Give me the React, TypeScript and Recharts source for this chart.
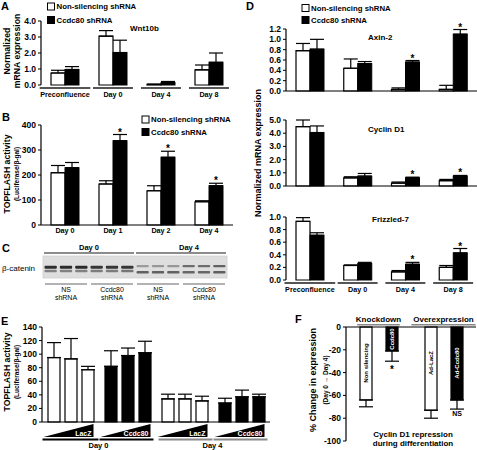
import React from 'react';
import { BarChart, Bar, XAxis, YAxis, ErrorBar, Cell } from 'recharts';

const FONT = '"Liberation Sans", Arial, Helvetica, sans-serif';
const TICK_STYLE = { fontSize: 8.5, fontWeight: 'bold', fill: '#000', fontFamily: FONT } as any;

// ---------- Panel A : Wnt10b ----------
const catsA = ['Preconfluence', 'Day 0', 'Day 4', 'Day 8'];
const wntNS = [0.75, 3.05, 0.04, 0.95];
const wntNSErr = [0.17, 0.35, 0.01, 0.3];
const wntCc = [0.97, 2.03, 0.15, 1.42];
const wntCcErr = [0.18, 0.77, 0.07, 0.58];
const wntSig = [false, false, false, false];
const ticksA = [0, 1, 2, 3, 4];

// ---------- Panel B : TOPFLASH ----------
const catsB = ['Day 0', 'Day 1', 'Day 2', 'Day 4'];
const topNS = [209, 164, 137, 93];
const topNSErr = [29, 13, 20, 4];
const topCc = [229, 337, 271, 157];
const topCcErr = [21, 25, 24, 10];
const topSig = [false, true, true, true];
const ticksB = [0, 100, 200, 300, 400];

// ---------- Panel C : blot ----------
const blotDays = ['Day 0', 'Day 4'];
const blotGroups = [['NS', 'shRNA'], ['Ccdc80', 'shRNA'], ['NS', 'shRNA'], ['Ccdc80', 'shRNA']];
const blotUpper = [0.78, 0.8, 0.8, 0.75, 0.75, 0.75, 0.28, 0.3, 0.3, 0.5, 0.5, 0.55];
const blotLower = [0.4, 0.4, 0.4, 0.42, 0.42, 0.45, 0.55, 0.55, 0.55, 0.52, 0.52, 0.56];

// ---------- Panel D ----------
const catsD = ['Preconfluence', 'Day 0', 'Day 4', 'Day 8'];
const axinNS = [0.78, 0.44, 0.03, 0.03];
const axinNSErr = [0.14, 0.18, 0.03, 0.08];
const axinCc = [0.81, 0.53, 0.56, 1.1];
const axinCcErr = [0.19, 0.04, 0.03, 0.09];
const axinSig = [false, false, true, true];
const ticksAxin = [0, 0.2, 0.4, 0.6, 0.8, 1.0, 1.2];

const cycNS = [4.5, 0.62, 0.22, 0.4];
const cycNSErr = [0.5, 0.08, 0.08, 0.1];
const cycCc = [4.05, 0.75, 0.62, 0.75];
const cycCcErr = [0.5, 0.2, 0.05, 0.05];
const cycSig = [false, false, true, true];
const ticksCyc = [0, 1, 2, 3, 4, 5];

const frzNS = [0.93, 0.23, 0.13, 0.2];
const frzNSErr = [0.06, 0.01, 0.02, 0.03];
const frzCc = [0.71, 0.26, 0.25, 0.43];
const frzCcErr = [0.04, 0.02, 0.03, 0.07];
const frzSig = [false, false, true, true];
const ticksFrz = [0, 0.2, 0.4, 0.6, 0.8, 1.0];

// ---------- Panel E ----------
const eConstruct = ['LacZ', 'Ccdc80', 'LacZ', 'Ccdc80'];
const eDay = ['Day 0', 'Day 0', 'Day 4', 'Day 4'];
const eDose1 = [95, 82, 34, 28];
const eDose1Err = [22, 23, 7, 7];
const eDose2 = [93, 98, 34, 37];
const eDose2Err = [30, 11, 7, 10];
const eDose3 = [77, 102, 31, 37];
const eDose3Err = [5, 17, 7, 4];
const ticksE = [0, 20, 40, 60, 80, 100, 120, 140];

// ---------- Panel F ----------
const fCats = ['Knockdown', 'Overexpression'];
const fWhite = [-64, -73];
const fWhiteErr = [6, 7];
const fWhiteLab = ['Non silencing', 'Ad-LacZ'];
const fBlack = [-21, -64];
const fBlackErr = [9, 8];
const fBlackLab = ['Ccdc80', 'Ad-Ccdc80'];
const fBlackNote = ['*', 'NS'];
const ticksF = [-100, -80, -60, -40, -20, 0];

function buildRows(cats: string[], ns: number[], nsErr: number[], cc: number[], ccErr: number[], sig: boolean[]) {
  return cats.map((c, i) => ({
    cat: c,
    ns: ns[i],
    nsE: [0, nsErr[i]],
    cc: cc[i],
    ccE: [0, ccErr[i]],
    ccHi: ccErr[i],
    sig: sig[i],
  }));
}

const starShape = (props: any) => {
  const { x, y, width, height, payload } = props;
  const top = Math.min(y, y + height);
  const h = Math.abs(height);
  const v = Math.abs(payload.cc);
  const capY = v > 0 ? top - payload.ccHi * (h / v) : top;
  return (
    <g>
      <rect x={x} y={top} width={width} height={h} fill="#000" stroke="#000" strokeWidth={1} />
      {payload.sig ? (
        <text x={x + width / 2} y={capY + 1} textAnchor="middle" fontSize={10} fontWeight="bold" fill="#000" fontFamily={FONT}>
          *
        </text>
      ) : null}
    </g>
  );
};

const GroupTick = (props: any) => {
  const { x, y, payload } = props;
  const label = String(payload.value);
  const w = Math.max(label.length * 3.9, 40);
  return (
    <g>
      <line x1={x - w / 2} x2={x + w / 2} y1={y + 3} y2={y + 3} stroke="#555" strokeWidth={2} />
      <text x={x} y={y + 12} textAnchor="middle" fontSize={7.2} fontWeight="bold" fill="#000" fontFamily={FONT}>
        {label}
      </text>
    </g>
  );
};

const PlainTick = (props: any) => {
  const { x, y, payload } = props;
  return (
    <text x={x} y={y + 7.5} textAnchor="middle" fontSize={7.2} fontWeight="bold" fill="#000" fontFamily={FONT}>
      {String(payload.value)}
    </text>
  );
};

function TwoBarChart(p: any) {
  const rows = buildRows(p.cats, p.ns, p.nsErr, p.cc, p.ccErr, p.sig);
  const tick = p.xMode === 'none' ? false : p.xMode === 'group' ? (t: any) => <GroupTick {...t} /> : (t: any) => <PlainTick {...t} />;
  return (
    <div style={{ position: 'absolute', left: p.left, top: p.top }}>
      <BarChart width={p.width} height={p.height} data={rows} margin={p.margin} barGap={0}>
        <XAxis
          dataKey="cat"
          height={p.xHeight}
          interval={0}
          tickLine={false}
          tickSize={0}
          tickMargin={0}
          axisLine={p.xMode === 'group' ? false : { stroke: '#000', strokeWidth: 1.2 }}
          tick={tick as any}
        />
        <YAxis
          width={p.yWidth}
          domain={[p.yTicks[0], p.yTicks[p.yTicks.length - 1]]}
          ticks={p.yTicks}
          interval={0}
          tickFormatter={(v: any) => Number(v).toFixed(p.digits)}
          tick={TICK_STYLE}
          tickSize={3}
          tickMargin={2}
          axisLine={{ stroke: '#000', strokeWidth: 1.2 }}
          tickLine={{ stroke: '#000', strokeWidth: 1 }}
        />
        <Bar dataKey="ns" barSize={14} fill="#fff" stroke="#000" strokeWidth={1.2} isAnimationActive={false}>
          <ErrorBar dataKey="nsE" width={7} stroke="#000" strokeWidth={1.2} direction="y" />
        </Bar>
        <Bar dataKey="cc" barSize={14} fill="#000" isAnimationActive={false} shape={starShape}>
          <ErrorBar dataKey="ccE" width={7} stroke="#000" strokeWidth={1.2} direction="y" />
        </Bar>
      </BarChart>
    </div>
  );
}

// ---------- Panel E chart ----------
const WedgeTick = (props: any) => {
  const { x, y, index } = props;
  const lab = eConstruct[index];
  const day = eDay[index];
  const gray = day !== eDay[0];
  const lx1 = index === 2 ? x - 26 : x - 28;
  const lx2 = index % 2 === 0 ? x + 28 : x + 26;
  return (
    <g>
      <polygon points={`${x - 27},${y + 15} ${x + 23},${y + 15} ${x + 23},${y + 2}`} fill="#000" />
      <text x={x + 21} y={y + 14} textAnchor="end" fontSize={7} fontWeight="bold" fill="#fff" fontFamily={FONT}>
        {lab}
      </text>
      <line x1={lx1} x2={lx2} y1={y + 17.5} y2={y + 17.5} stroke={gray ? '#888' : '#000'} strokeWidth={2} />
      {index % 2 === 0 ? (
        <text x={x + 28} y={y + 26} textAnchor="middle" fontSize={7.5} fontWeight="bold" fill="#000" fontFamily={FONT}>
          {day}
        </text>
      ) : null}
    </g>
  );
};

function PanelE() {
  const rows = eConstruct.map((c, i) => ({
    id: eDay[i] + ' ' + c,
    d1: eDose1[i],
    d1E: [0, eDose1Err[i]],
    d2: eDose2[i],
    d2E: [0, eDose2Err[i]],
    d3: eDose3[i],
    d3E: [0, eDose3Err[i]],
  }));
  const fillFor = (c: string) => (c === 'LacZ' ? '#fff' : '#000');
  const keys: [string, string][] = [
    ['d1', 'd1E'],
    ['d2', 'd2E'],
    ['d3', 'd3E'],
  ];
  return (
    <div style={{ position: 'absolute', left: 0, top: 300 }}>
      <BarChart width={290} height={150} data={rows} margin={{ top: 27, right: 20, left: 12, bottom: 0 }} barGap={5}>
        <XAxis
          dataKey="id"
          height={28}
          interval={0}
          tickLine={false}
          tickSize={0}
          tickMargin={0}
          axisLine={{ stroke: '#000', strokeWidth: 1.2 }}
          tick={(t: any) => <WedgeTick {...t} />}
        />
        <YAxis
          width={30}
          domain={[0, 140]}
          ticks={ticksE}
          interval={0}
          tick={TICK_STYLE}
          tickSize={3}
          tickMargin={2}
          axisLine={{ stroke: '#000', strokeWidth: 1.2 }}
          tickLine={{ stroke: '#000', strokeWidth: 1 }}
        />
        {keys.map(([k, e]) => (
          <Bar key={k} dataKey={k} barSize={12} stroke="#000" strokeWidth={1.2} isAnimationActive={false}>
            {eConstruct.map((c, i) => (
              <Cell key={i} fill={fillFor(c)} />
            ))}
            <ErrorBar dataKey={e} width={7} stroke="#000" strokeWidth={1.2} direction="y" />
          </Bar>
        ))}
      </BarChart>
    </div>
  );
}

// ---------- Panel F chart ----------
const HeaderTick = (props: any) => {
  const { x, y, payload } = props;
  const label = String(payload.value);
  const w = label.length * 4.3 + 4;
  return (
    <g>
      <text x={x} y={y - 5} textAnchor="middle" fontSize={8} fontWeight="bold" fill="#000" fontFamily={FONT}>
        {label}
      </text>
      <line x1={x - w / 2} x2={x + w / 2} y1={y - 2.2} y2={y - 2.2} stroke="#888" strokeWidth={1.6} />
    </g>
  );
};

const fShape = (dark: boolean) => (props: any) => {
  const { x, y, width, height, payload } = props;
  const top = Math.min(y, y + height);
  const h = Math.abs(height);
  const val = Math.abs(dark ? payload.b : payload.w);
  const err = dark ? payload.bErr : payload.wErr;
  const label = dark ? payload.bLab : payload.wLab;
  const cx = x + width / 2;
  const cy = top + Math.min(h / 2, 36);
  const errBottom = top + h + (val > 0 ? (err * h) / val : 0);
  const note = dark ? payload.bNote : '';
  return (
    <g>
      <rect x={x} y={top} width={width} height={h} fill={dark ? '#000' : '#fff'} stroke="#000" strokeWidth={1.2} />
      <text
        x={cx}
        y={cy}
        transform={`rotate(-90 ${cx} ${cy})`}
        textAnchor="middle"
        dominantBaseline="central"
        fontSize={6}
        fontWeight="bold"
        fill={dark ? '#fff' : '#000'}
        fontFamily={FONT}
      >
        {label}
      </text>
      {note === '*' ? (
        <text x={cx} y={errBottom + 12} textAnchor="middle" fontSize={10} fontWeight="bold" fill="#000" fontFamily={FONT}>
          *
        </text>
      ) : note ? (
        <text x={cx} y={errBottom + 7} textAnchor="middle" fontSize={7} fontWeight="bold" fill="#000" fontFamily={FONT}>
          {note}
        </text>
      ) : null}
    </g>
  );
};

function PanelF() {
  const rows = fCats.map((c, i) => ({
    cat: c,
    w: fWhite[i],
    wE: [fWhiteErr[i], 0],
    wErr: fWhiteErr[i],
    wLab: fWhiteLab[i],
    b: fBlack[i],
    bE: [fBlackErr[i], 0],
    bErr: fBlackErr[i],
    bLab: fBlackLab[i],
    bNote: fBlackNote[i],
  }));
  return (
    <div style={{ position: 'absolute', left: 290, top: 300 }}>
      <BarChart width={187} height={150} data={rows} margin={{ top: 17, right: 1, left: 26, bottom: 9 }} barGap={14}>
        <XAxis
          dataKey="cat"
          orientation="top"
          height={10}
          interval={0}
          tickLine={false}
          tickSize={0}
          tickMargin={0}
          axisLine={{ stroke: '#000', strokeWidth: 1.2 }}
          tick={(t: any) => <HeaderTick {...t} />}
        />
        <YAxis
          width={30}
          domain={[-100, 0]}
          ticks={ticksF}
          interval={0}
          tick={TICK_STYLE}
          tickSize={3}
          tickMargin={2}
          axisLine={{ stroke: '#000', strokeWidth: 1.2 }}
          tickLine={{ stroke: '#000', strokeWidth: 1 }}
        />
        <Bar dataKey="w" barSize={12} fill="#fff" isAnimationActive={false} shape={fShape(false)}>
          <ErrorBar dataKey="wE" width={7} stroke="#000" strokeWidth={1.2} direction="y" />
        </Bar>
        <Bar dataKey="b" barSize={12} fill="#000" isAnimationActive={false} shape={fShape(true)}>
          <ErrorBar dataKey="bE" width={7} stroke="#000" strokeWidth={1.2} direction="y" />
        </Bar>
      </BarChart>
    </div>
  );
}

// ---------- overlay helpers ----------
const Legend2 = ({ x, y1, y2 }: { x: number; y1: number; y2: number }) => (
  <g>
    <rect x={x} y={y1 - 3.5} width={7} height={7} fill="#fff" stroke="#000" strokeWidth={1} />
    <text x={x + 9} y={y1 + 2.8} fontSize={7.8} fontWeight="bold" fill="#000">
      Non-silencing shRNA
    </text>
    <rect x={x} y={y2 - 3.5} width={7} height={7} fill="#000" stroke="#000" strokeWidth={1} />
    <text x={x + 9} y={y2 + 2.8} fontSize={7.8} fontWeight="bold" fill="#000">
      Ccdc80 shRNA
    </text>
  </g>
);

const VText = ({ cx, cy, size, children }: any) => (
  <text
    x={cx}
    y={cy}
    transform={`rotate(-90 ${cx} ${cy})`}
    textAnchor="middle"
    dominantBaseline="central"
    fontSize={size}
    fontWeight="bold"
    fill="#000"
  >
    {children}
  </text>
);

function Blot() {
  const x0 = 43;
  const w = 184;
  const lane = w / blotUpper.length;
  const shade = (d: number) => {
    const v = Math.round(215 * (1 - d));
    return `rgb(${v},${v},${v})`;
  };
  return (
    <g>
      <text x={2} y={252} fontSize={11} fontWeight="bold" fill="#000">C</text>
      {blotDays.map((d, i) => (
        <g key={d}>
          <text x={x0 + w / 4 + (i * w) / 2 + (i === 1 ? 8 : 0)} y={250} textAnchor="middle" fontSize={7.5} fontWeight="bold" fill="#000">
            {d}
          </text>
          <line x1={x0 + (i * w) / 2 + 1} x2={x0 + ((i + 1) * w) / 2 - 1} y1={253} y2={253} stroke="#666" strokeWidth={1.5} />
        </g>
      ))}
      <rect x={x0} y={256} width={w} height={22} fill="#dedede" stroke="#cfcfcf" strokeWidth={0.8} />
      <text x={2} y={271} fontSize={8} fill="#000">β-catenin</text>
      {blotUpper.map((u, i) => {
        const day4 = i >= 6;
        const lx = x0 + i * lane + 1.5;
        return (
          <g key={i}>
            <rect x={lx} y={day4 ? 265 : 265.8} width={lane - 3} height={day4 ? 2.2 : 3} rx={1} fill={shade(u)} />
            <rect x={lx} y={day4 ? 271 : 269.8} width={lane - 3} height={2.4} rx={1} fill={shade(blotLower[i])} />
          </g>
        );
      })}
      {blotGroups.map((g, i) => {
        const gx1 = x0 + (i * w) / 4 + 2;
        const gx2 = x0 + ((i + 1) * w) / 4 - 2;
        const cx = (gx1 + gx2) / 2;
        return (
          <g key={i}>
            <line x1={gx1} x2={gx2} y1={284} y2={284} stroke="#666" strokeWidth={1.2} />
            <text x={cx} y={292} textAnchor="middle" fontSize={7} fill="#000">{g[0]}</text>
            <text x={cx} y={300} textAnchor="middle" fontSize={7} fill="#000">{g[1]}</text>
          </g>
        );
      })}
    </g>
  );
}

export default function App() {
  return (
    <div
      style={{
        position: 'absolute',
        left: 0,
        top: 0,
        width: 477,
        height: 450,
        background: '#fff',
        overflow: 'hidden',
        fontFamily: FONT,
      }}
    >
      <TwoBarChart
        left={0}
        top={0}
        width={240}
        height={105}
        margin={{ top: 21, right: 7, left: 11, bottom: 0 }}
        yWidth={30}
        xHeight={20}
        cats={catsA}
        ns={wntNS}
        nsErr={wntNSErr}
        cc={wntCc}
        ccErr={wntCcErr}
        sig={wntSig}
        yTicks={ticksA}
        digits={1}
        xMode="group"
      />
      <TwoBarChart
        left={0}
        top={105}
        width={240}
        height={130}
        margin={{ top: 20, right: 7, left: 11, bottom: 0 }}
        yWidth={30}
        xHeight={10}
        cats={catsB}
        ns={topNS}
        nsErr={topNSErr}
        cc={topCc}
        ccErr={topCcErr}
        sig={topSig}
        yTicks={ticksB}
        digits={0}
        xMode="plain"
      />
      <TwoBarChart
        left={240}
        top={0}
        width={237}
        height={98}
        margin={{ top: 29, right: 0, left: 11, bottom: 0 }}
        yWidth={35}
        xHeight={7}
        cats={catsD}
        ns={axinNS}
        nsErr={axinNSErr}
        cc={axinCc}
        ccErr={axinCcErr}
        sig={axinSig}
        yTicks={ticksAxin}
        digits={1}
        xMode="none"
      />
      <TwoBarChart
        left={240}
        top={100}
        width={237}
        height={93}
        margin={{ top: 20, right: 0, left: 11, bottom: 0 }}
        yWidth={35}
        xHeight={7}
        cats={catsD}
        ns={cycNS}
        nsErr={cycNSErr}
        cc={cycCc}
        ccErr={cycCcErr}
        sig={cycSig}
        yTicks={ticksCyc}
        digits={1}
        xMode="none"
      />
      <TwoBarChart
        left={240}
        top={200}
        width={237}
        height={100}
        margin={{ top: 17, right: 0, left: 11, bottom: 0 }}
        yWidth={35}
        xHeight={20}
        cats={catsD}
        ns={frzNS}
        nsErr={frzNSErr}
        cc={frzCc}
        ccErr={frzCcErr}
        sig={frzSig}
        yTicks={ticksFrz}
        digits={1}
        xMode="group"
      />
      <PanelE />
      <PanelF />
      <svg
        width={477}
        height={450}
        style={{ position: 'absolute', left: 0, top: 0, pointerEvents: 'none' }}
        fontFamily={FONT}
      >
        {/* Panel letters */}
        <text x={1} y={10} fontSize={11} fontWeight="bold" fill="#000">A</text>
        <text x={2} y={121} fontSize={11} fontWeight="bold" fill="#000">B</text>
        <text x={246} y={10} fontSize={11} fontWeight="bold" fill="#000">D</text>
        <text x={1} y={325} fontSize={11} fontWeight="bold" fill="#000">E</text>
        <text x={295} y={323} fontSize={11} fontWeight="bold" fill="#000">F</text>

        {/* Legends */}
        <Legend2 x={47.5} y1={6.5} y2={20} />
        <Legend2 x={142} y1={119.5} y2={132} />
        <Legend2 x={302} y1={8} y2={20} />

        {/* Titles */}
        <text x={130} y={31} fontSize={8} fontWeight="bold" fill="#000">Wnt10b</text>
        <text x={368} y={40} fontSize={8} fontWeight="bold" fill="#000">Axin-2</text>
        <text x={368} y={132} fontSize={8} fontWeight="bold" fill="#000">Cyclin D1</text>
        <text x={372} y={222} fontSize={8} fontWeight="bold" fill="#000">Frizzled-7</text>

        {/* Y labels */}
        <VText cx={7} cy={51} size={8.7}>Normalized</VText>
        <VText cx={17} cy={51} size={8.7}>mRNA expression</VText>
        <VText cx={7} cy={174} size={8.7}>TOPFLASH activity</VText>
        <VText cx={16} cy={174} size={6.5}>(Luciferase/β-gal)</VText>
        <VText cx={258} cy={153} size={9}>Normalized mRNA expression</VText>
        <VText cx={7} cy={372} size={8.7}>TOPFLASH activity</VText>
        <VText cx={16} cy={372} size={6.5}>(Luciferase/β-gal)</VText>
        <VText cx={313} cy={380} size={9}>% Change in expression</VText>
        <VText cx={325} cy={380} size={6.5}>(Day 0 → Day 4)</VText>

        {/* F caption */}
        <text x={413} y={436.5} textAnchor="middle" fontSize={8} fontWeight="bold" fill="#000">Cyclin D1 repression</text>
        <text x={413} y={445.5} textAnchor="middle" fontSize={8} fontWeight="bold" fill="#000">during differentiation</text>

        <Blot />
      </svg>
    </div>
  );
}
